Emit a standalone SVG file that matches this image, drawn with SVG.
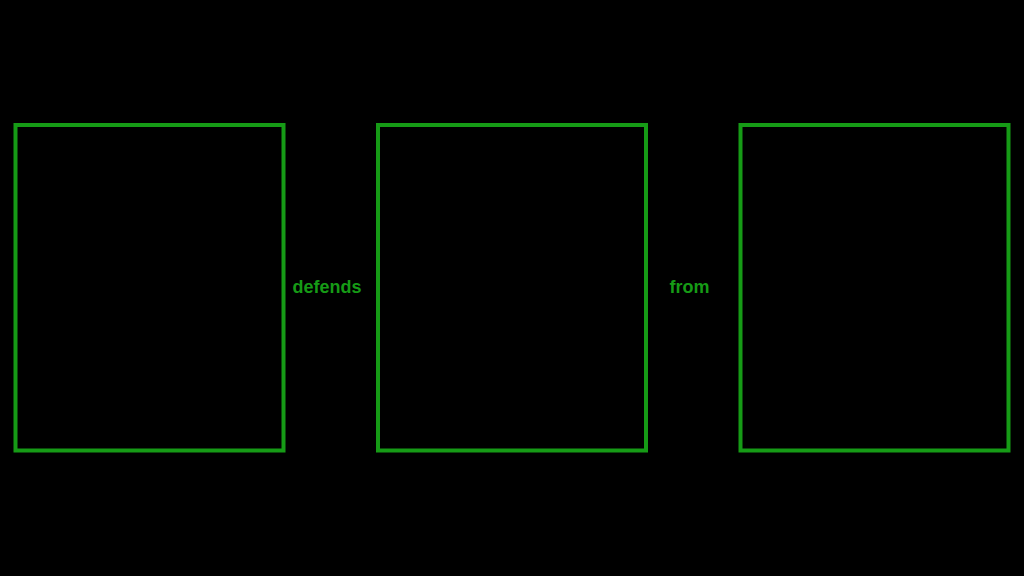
<svg xmlns="http://www.w3.org/2000/svg" width="1024" height="576" viewBox="0 0 1024 576">
<style>
.box{fill:none;stroke:#169b16;stroke-width:4}
.lbl{font-family:"Liberation Sans",Arial,sans-serif;font-weight:bold;font-size:18px;fill:#169b16;text-anchor:middle;dominant-baseline:central}
</style>
<rect width="1024" height="576" fill="#000"/>
<g id="node1"><rect class="box" x="15.5" y="125" width="268" height="325.5"/></g>
<g id="node2"><rect class="box" x="378" y="125" width="268" height="325.5"/></g>
<g id="node3"><rect class="box" x="740.5" y="125" width="268" height="325.5"/></g>
<g id="connectors">
<text class="lbl" x="327" y="287">defends</text>
<text class="lbl" x="689.5" y="287">from</text>
</g>
</svg>
